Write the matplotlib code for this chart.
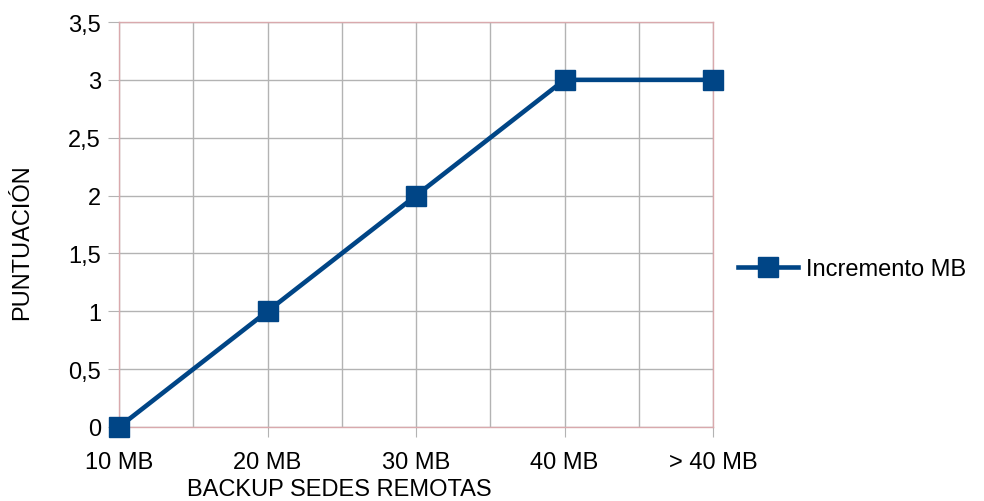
import matplotlib
matplotlib.use('Agg')
import numpy as np
from matplotlib import pyplot as plt
from matplotlib.ticker import FuncFormatter, MultipleLocator

categories = ['10 MB', '20 MB', '30 MB', '40 MB', '> 40 MB']
puntuacion = [0, 1, 2, 3, 3]
serie = 'Incremento MB'
y_ticks = [0, 0.5, 1, 1.5, 2, 2.5, 3, 3.5]

plt.rcParams['font.family'] = ['Liberation Sans', 'DejaVu Sans']
plt.rcParams['font.size'] = 17

azul = '#004586'
gris = '#b3b3b3'
rosa = '#d9a9ad'

fig = plt.figure(figsize=(9.84, 5.02), dpi=100)
ax = fig.add_axes([119 / 984, 74 / 502, 594 / 984, 405 / 502])

x = np.arange(len(categories))
ax.plot(x, puntuacion, color=azul, linewidth=3.3, marker='s', markersize=14,
        markeredgecolor=azul, label=serie, clip_on=False, zorder=5)

ax.set_xlim(0, len(categories) - 1)
ax.set_ylim(0, 3.5)
ax.set_xticks(x)
ax.set_xticklabels(categories)
ax.xaxis.set_minor_locator(MultipleLocator(0.5))
ax.set_yticks(y_ticks)
ax.yaxis.set_major_formatter(FuncFormatter(lambda v, p: ('%g' % v).replace('.', ',')))

ax.grid(True, which='both', axis='x', color=gris, linewidth=1)
ax.grid(True, which='major', axis='y', color=gris, linewidth=1)
ax.set_axisbelow(True)
ax.tick_params(axis='x', which='major', direction='out', length=7, color=gris, pad=10)
ax.tick_params(axis='x', which='minor', length=0)
ax.tick_params(axis='y', direction='out', length=8, color=gris, pad=5)
for s in ax.spines.values():
    s.set_color(rosa)
    s.set_linewidth(1)

fig.text(339 / 984, 1 - 490 / 502, 'BACKUP SEDES REMOTAS', ha='center', va='center')
fig.text(22 / 984, 1 - 242 / 502, 'PUNTUACIÓN', ha='center', va='center', rotation=90)

ax.legend(loc='center left', bbox_to_anchor=(738 / 984, 1 - 270 / 502),
          bbox_transform=fig.transFigure, frameon=False, borderpad=0,
          borderaxespad=0, handlelength=2.55, handletextpad=0.34, numpoints=1)

fig.savefig('out.png', dpi=100)
